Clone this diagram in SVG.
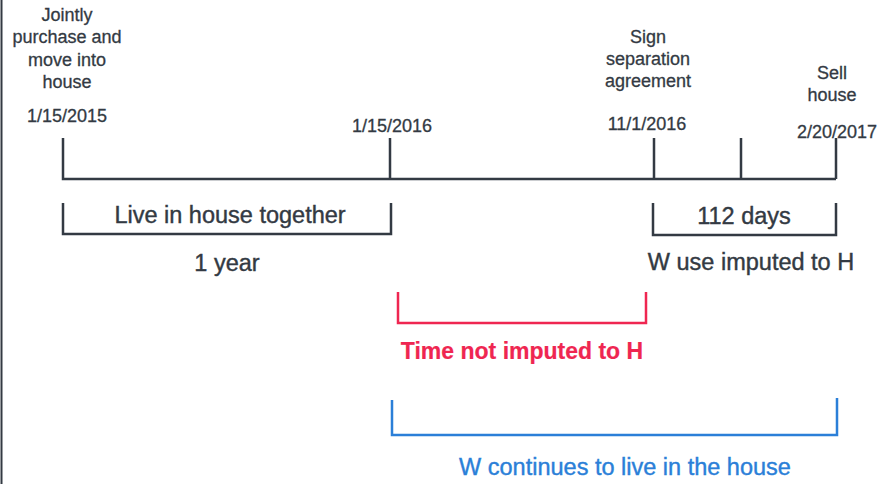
<svg xmlns="http://www.w3.org/2000/svg" width="883" height="484" viewBox="0 0 883 484">
<style>
.lbl{font-family:"Liberation Sans",Arial,sans-serif;font-size:18px;fill:#333a43;stroke:#333a43;stroke-width:0.3;text-anchor:middle}
.big{font-family:"Liberation Sans",Arial,sans-serif;font-size:23.5px;fill:#333a43;stroke:#333a43;stroke-width:0.4;text-anchor:middle}
.ln{fill:none;stroke:#333a43;stroke-width:2.5}
.red{fill:none;stroke:#ef2651;stroke-width:2.5}
.blue{fill:none;stroke:#2b7fd8;stroke-width:2.5}
</style>
<rect width="883" height="484" fill="#ffffff"/>
<line x1="1.5" y1="0" x2="1.5" y2="484" stroke="#333a43" stroke-width="2"/>
<g id="connectors">
<path class="ln" d="M63,138 V179 H836 M390,138 V179 M654,138 V179 M741,138 V179 M836,138 V179"/>
</g>
<g id="n-purchase">
<text class="lbl" x="67" y="21">Jointly</text>
<text class="lbl" x="67" y="43">purchase and</text>
<text class="lbl" x="67" y="66">move into</text>
<text class="lbl" x="67" y="88">house</text>
<text class="lbl" x="67" y="122">1/15/2015</text>
</g>
<g id="n-2016">
<text class="lbl" x="392" y="132">1/15/2016</text>
</g>
<g id="n-sign">
<text class="lbl" x="648" y="43">Sign</text>
<text class="lbl" x="648" y="65">separation</text>
<text class="lbl" x="648" y="87">agreement</text>
<text class="lbl" x="647" y="130">11/1/2016</text>
</g>
<g id="n-sell">
<text class="lbl" x="832" y="79">Sell</text>
<text class="lbl" x="832" y="101">house</text>
<text class="lbl" x="837" y="138">2/20/2017</text>
</g>
<g id="n-together">
<path class="ln" d="M63,203 V234 H391 V203"/>
<text class="big" x="230" y="223">Live in house together</text>
<text class="big" x="227" y="271">1 year</text>
</g>
<g id="n-112">
<path class="ln" d="M653,203 V235 H836 V203"/>
<text class="big" x="744" y="224">112 days</text>
<text class="big" x="751" y="270">W use imputed to H</text>
</g>
<g id="n-notimputed">
<path class="red" d="M398,292 V323 H646 V292"/>
<text class="big" x="522" y="359" style="fill:#ef2651;stroke:#ef2651;stroke-width:0.2;font-weight:bold;font-size:23px">Time not imputed to H</text>
</g>
<g id="n-continues">
<path class="blue" d="M392,400 V435 H837 V398"/>
<text class="big" x="625" y="475" style="fill:#2b7fd8;stroke:#2b7fd8">W continues to live in the house</text>
</g>
</svg>
